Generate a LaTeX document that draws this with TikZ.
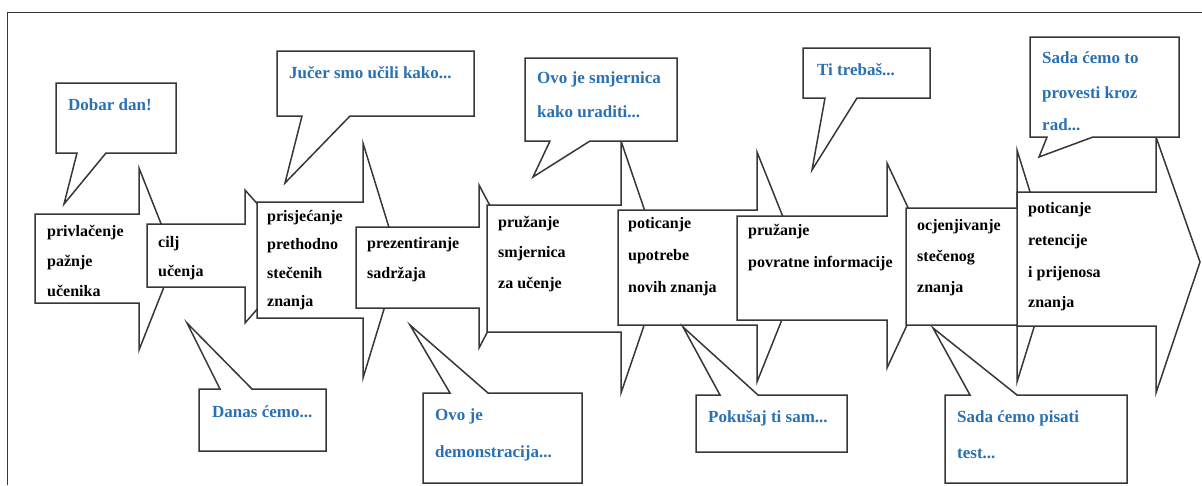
\documentclass[tikz,border=0pt]{standalone}
\usepackage{fontspec}
\setmainfont{Liberation Serif}
\definecolor{bl}{RGB}{41,113,178}
\definecolor{ln}{RGB}{55,55,55}
\tikzset{
  shp/.style={draw=ln, fill=white, line width=1.5pt, line join=miter},
  tb/.style={anchor=base west, inner sep=0pt, font=\bfseries\fontsize{16}{19}\selectfont, text=black},
  tbl/.style={anchor=base west, inner sep=0pt, font=\bfseries\fontsize{17}{20}\selectfont, text=bl},
}
\begin{document}
\begin{tikzpicture}[x=1pt,y=-1pt]
\useasboundingbox (0,0) rectangle (1202,485);
\draw[ln, line width=1pt] (7,485) -- (7,12) -- (1202,12);
% arrows
\draw[shp] (35,214) -- (139,214) -- (139,168) -- (175,259) -- (139,350) -- (139,303) -- (35,303) -- cycle;
\draw[shp] (147,224) -- (245,224) -- (245,190) -- (304,256) -- (245,323) -- (245,287) -- (147,287) -- cycle;
\draw[shp] (257,202) -- (363,202) -- (363,143) -- (399,260) -- (363,378) -- (363,318) -- (257,318) -- cycle;
\draw[shp] (356,227) -- (479,227) -- (479,185) -- (522,266) -- (479,348) -- (479,308) -- (356,308) -- cycle;
\draw[shp] (487,205) -- (621,205) -- (621,141) -- (664,267) -- (621,393) -- (621,332) -- (487,332) -- cycle;
\draw[shp] (618,210) -- (757,210) -- (757,152) -- (803,267) -- (757,382) -- (757,325) -- (618,325) -- cycle;
\draw[shp] (737,216) -- (887,216) -- (887,163) -- (935,265) -- (887,368) -- (887,320) -- (737,320) -- cycle;
\draw[shp] (906,208) -- (1017,208) -- (1017,150) -- (1053,266) -- (1017,382) -- (1017,325) -- (906,325) -- cycle;
\draw[shp] (1017,192) -- (1156,192) -- (1156,137) -- (1200,262) -- (1156,393) -- (1156,326) -- (1017,326) -- cycle;
% callouts with tail below
\draw[shp] (56,83) -- (176,83) -- (176,153) -- (106,153) -- (64,204) -- (77,153) -- (56,153) -- cycle;
\draw[shp] (277,51) -- (474,51) -- (474,116) -- (350,116) -- (285,183) -- (302,116) -- (277,116) -- cycle;
\draw[shp] (525,58) -- (677,58) -- (677,141) -- (590,141) -- (533,177) -- (550,141) -- (525,141) -- cycle;
\draw[shp] (803,48) -- (930,48) -- (930,98) -- (857,98) -- (812,170) -- (825,98) -- (803,98) -- cycle;
\draw[shp] (1030,37) -- (1179,37) -- (1179,137) -- (1093,137) -- (1039,157) -- (1047,137) -- (1030,137) -- cycle;
% callouts with tail above
\draw[shp] (199,451) -- (199,389) -- (220,389) -- (187,323) -- (252,389) -- (326,389) -- (326,451) -- cycle;
\draw[shp] (423,483) -- (423,393) -- (450,393) -- (410,325) -- (488,393) -- (582,393) -- (582,483) -- cycle;
\draw[shp] (696,452) -- (696,395) -- (720,395) -- (683,327) -- (758,395) -- (847,395) -- (847,452) -- cycle;
\draw[shp] (945,483) -- (945,395) -- (970,395) -- (933,328) -- (1017,395) -- (1127,395) -- (1127,483) -- cycle;
% black texts
\node[tb] (a1) at (47,236) {privlačenje};
\node[tb] (a2) at (47,266) {pažnje};
\node[tb] (a3) at (47,296) {učenika};
\node[tb] (b1) at (158,247) {cilj};
\node[tb] (b2) at (158,276) {učenja};
\node[tb] (c1) at (267,221) {prisjećanje};
\node[tb] (c2) at (267,249) {prethodno};
\node[tb] (c3) at (267,278) {stečenih};
\node[tb] (c4) at (267,306) {znanja};
\node[tb] (d1) at (367,248) {prezentiranje};
\node[tb] (d2) at (367,278) {sadržaja};
\node[tb] (e1) at (498,227) {pružanje};
\node[tb] (e2) at (498,257) {smjernica};
\node[tb] (e3) at (498,288) {za učenje};
\node[tb] (f1) at (628,228) {poticanje};
\node[tb] (f2) at (628,260) {upotrebe};
\node[tb] (f3) at (628,292) {novih znanja};
\node[tb] (g1) at (748,235) {pružanje};
\node[tb] (g2) at (748,267) {povratne informacije};
\node[tb] (h1) at (917,230) {ocjenjivanje};
\node[tb] (h2) at (917,261) {stečenog};
\node[tb] (h3) at (917,292) {znanja};
\node[tb] (i1) at (1028,213) {poticanje};
\node[tb] (i2) at (1028,245) {retencije};
\node[tb] (i3) at (1028,277) {i prijenosa};
\node[tb] (i4) at (1028,307) {znanja};
% blue texts
\node[tbl] (q1) at (68,110) {Dobar dan!};
\node[tbl] (q2) at (289,78) {Jučer smo učili kako...};
\node[tbl] (q3a) at (537,83) {Ovo je smjernica};
\node[tbl] (q3b) at (537,117) {kako uraditi...};
\node[tbl] (q4) at (817,75) {Ti trebaš...};
\node[tbl] (q5a) at (1042,63) {Sada ćemo to};
\node[tbl] (q5b) at (1042,98) {provesti kroz};
\node[tbl] (q5c) at (1042,130) {rad...};
\node[tbl] (r1) at (212,417) {Danas ćemo...};
\node[tbl] (r2a) at (435,420) {Ovo je};
\node[tbl] (r2b) at (435,457) {demonstracija...};
\node[tbl] (r3) at (708,422) {Pokušaj ti sam...};
\node[tbl] (r4a) at (957,422) {Sada ćemo pisati};
\node[tbl] (r4b) at (957,458) {test...};
\end{tikzpicture}
\end{document}
